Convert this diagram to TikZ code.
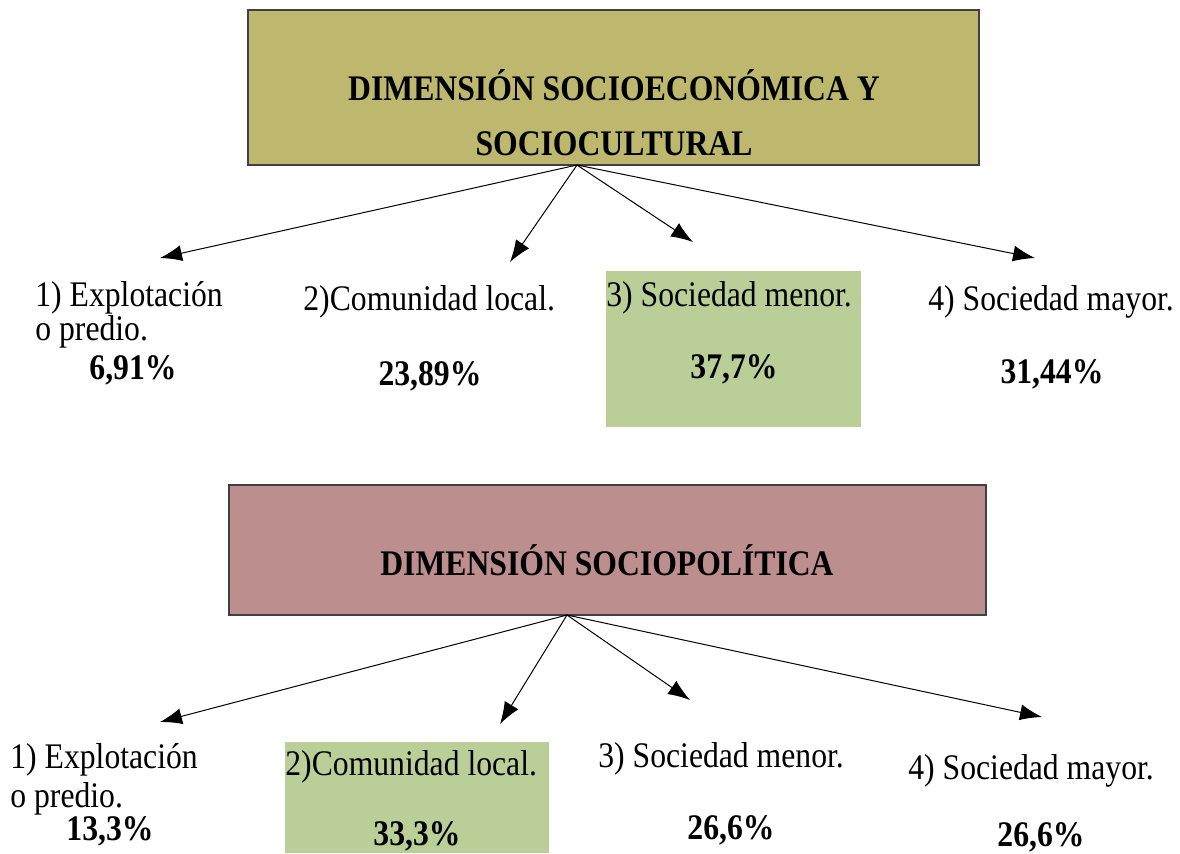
\documentclass[tikz,border=0pt]{standalone}
\usepackage{xcolor}
\usepackage{fontspec}
\setmainfont{Liberation Serif}[FakeStretch=0.88]
\usepackage{tikz}
\usetikzlibrary{arrows.meta,positioning}
\definecolor{olivebox}{RGB}{190,184,110}
\definecolor{rosebox}{RGB}{188,142,141}
\definecolor{greenbox}{RGB}{185,207,151}
\tikzstyle{dimbox} = [rectangle, draw=black!75, line width=0.8pt, inner sep=0pt]
\tikzstyle{hibox} = [rectangle, fill=greenbox, inner sep=0pt]
\tikzstyle{title} = [inner sep=0pt, align=center, font=\fontsize{18}{27.5}\selectfont\bfseries]
\tikzstyle{item} = [inner sep=0pt, anchor=base west, font=\fontsize{18}{22}\selectfont]
\tikzstyle{pct} = [inner sep=0pt, anchor=base, font=\fontsize{18}{22}\selectfont\bfseries]
\tikzstyle{arrow} = [line width=0.5pt,-{Latex[length=11pt,width=8pt]}]

\begin{document}
\begin{tikzpicture}[x=0.5pt,y=-0.5pt]
	\useasboundingbox (0,0) rectangle (1180,853);
	% socioeconomica y sociocultural
	\node (Econ) [dimbox, fill=olivebox, minimum width=365.5pt, minimum height=77.5pt] at (613.5,87.5) {};
	\node (EconTitle) [title] at (614,112.5) {DIMENSIÓN SOCIOECONÓMICA Y\\SOCIOCULTURAL};
	\node (EconHi) [hibox, minimum width=127.5pt, minimum height=78pt] at (733.5,349) {};
	
	\node (EconA) [item] at (35,306) {1) Explotación};
	\node (EconAb) [item] at (35,340) {o predio.};
	\node (EconApct) [pct] at (133,379) {6,91\%};
	\node (EconB) [item] at (303,310) {2)Comunidad local.};
	\node (EconBpct) [pct] at (430,385) {23,89\%};
	\node (EconC) [item] at (606,306) {3) Sociedad menor.};
	\node (EconCpct) [pct] at (734,378) {37,7\%};
	\node (EconD) [item] at (928,310) {4) Sociedad mayor.};
	\node (EconDpct) [pct] at (1052,383) {31,44\%};
	
	\coordinate (EconRoot) at (577,165);
	\coordinate (EconTipA) at (160,258);
	\coordinate (EconTipB) at (510,262);
	\coordinate (EconTipC) at (693,242);
	\coordinate (EconTipD) at (1035,258);
	\draw[arrow] (EconRoot) -- (EconTipA);
	\draw[arrow] (EconRoot) -- (EconTipB);
	\draw[arrow] (EconRoot) -- (EconTipC);
	\draw[arrow] (EconRoot) -- (EconTipD);
	
	% sociopolitica
	\node (Pol) [dimbox, fill=rosebox, minimum width=378.5pt, minimum height=65pt] at (607.5,550) {};
	\node (PolTitle) [title] at (607,560) {DIMENSIÓN SOCIOPOLÍTICA};
	\node (PolHi) [hibox, minimum width=132pt, minimum height=55.5pt] at (417,797.5) {};
	
	\node (PolA) [item] at (10,768) {1) Explotación};
	\node (PolAb) [item] at (10,807) {o predio.};
	\node (PolApct) [pct] at (110,840) {13,3\%};
	\node (PolB) [item] at (285,775) {2)Comunidad local.};
	\node (PolBpct) [pct] at (417,845) {33,3\%};
	\node (PolC) [item] at (598,767) {3) Sociedad menor.};
	\node (PolCpct) [pct] at (731,839) {26,6\%};
	\node (PolD) [item] at (908,779) {4) Sociedad mayor.};
	\node (PolDpct) [pct] at (1041,846) {26,6\%};
	
	\coordinate (PolRoot) at (567,615);
	\coordinate (PolTipA) at (160,722);
	\coordinate (PolTipB) at (500,724);
	\coordinate (PolTipC) at (690,700);
	\coordinate (PolTipD) at (1042,717);
	\draw[arrow] (PolRoot) -- (PolTipA);
	\draw[arrow] (PolRoot) -- (PolTipB);
	\draw[arrow] (PolRoot) -- (PolTipC);
	\draw[arrow] (PolRoot) -- (PolTipD);
\end{tikzpicture}
\end{document}
